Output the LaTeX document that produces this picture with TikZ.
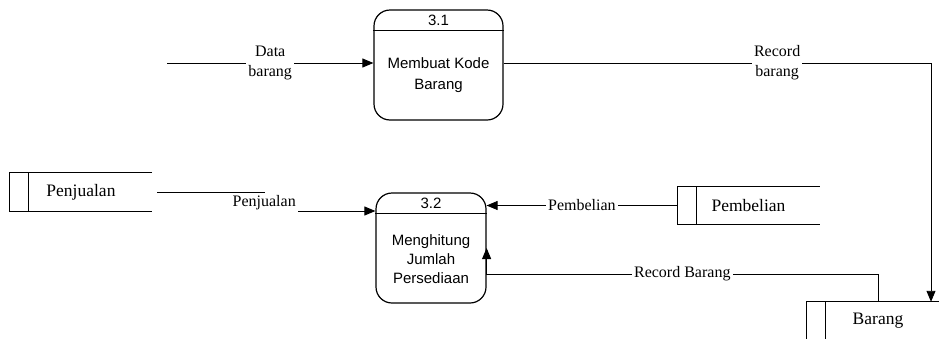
\documentclass[tikz,border=0pt]{standalone}
\usepackage{fontspec}
\setmainfont{Liberation Serif}
\newfontfamily\arial{Liberation Sans}
\usetikzlibrary{calc}
\usetikzlibrary{arrows.meta}

\begin{document}
\begin{tikzpicture}[
      x=1pt, y=-1pt,
      proses/.style={rectangle, draw, line width=1.2pt, rounded corners=16pt,
        minimum width=129pt, minimum height=110pt, inner sep=0pt},
      isi/.style={font=\arial\fontsize{15}{19}\selectfont, align=center, inner sep=0pt},
      simpan/.style={minimum width=142pt, minimum height=38pt, inner sep=0pt,
        font=\fontsize{17.5}{20}\selectfont},
      alir/.style={line width=0.9pt, -{Triangle[length=11pt, width=9pt]}},
      ket/.style={fill=white, inner sep=2pt, align=center, font=\fontsize{16}{20}\selectfont}
    ]
    \useasboundingbox (0,0) rectangle (939,338);

    % Proses 3.1 dan 3.2
    \node[proses] (p31) at (438.5,65) {};
    \node[proses, minimum width=110pt] (p32) at (431,248) {};
    \foreach \p/\nomor in {p31/3.1, p32/3.2} {
      \draw[line width=1.2pt] ($(\p.north west)+(0,21)$) -- ($(\p.north east)+(0,21)$);
      \node[isi] at ($(\p.north)+(0,10.5)$) {\nomor};
    }
    \node[isi, font=\arial\fontsize{15}{21}\selectfont] at ($(p31.center)+(0,10)$) {Membuat Kode\\Barang};
    \node[isi] at ($(p32.center)+(0,11)$) {Menghitung\\Jumlah\\Persediaan};

    % Data store
    \node[simpan] (pj) at (81,192) {Penjualan};
    \node[simpan, minimum height=37pt] (pb) at (748.5,205.5) {Pembelian};
    \node[simpan] (br) at (878,321) {Barang};
    \foreach \s in {pj,pb,br}
      \draw[line width=1pt] (\s.north east) -- (\s.north west) -- (\s.south west) -- (\s.south east)
        ([xshift=19pt]\s.north west) -- ([xshift=19pt]\s.south west);

    % Aliran data
    \coordinate (db) at (167,63);
    \draw[alir] (db) -- node[ket] {Data\\barang} (db -| p31.west);
    \draw[alir] (p31.east |- db) -| node[ket, pos=0.32] {Record\\barang} ([xshift=53pt]br.north);
    \draw[alir] ([xshift=5pt]pj.east) -- ++(107,0) -- node[ket, pos=0.55] {Penjualan} ++(0,19)
      -- ([yshift=37pt]p32.west);
    \draw[alir] (pb.west) -- node[ket] {Pembelian} (pb.west -| p32.east);
    \draw[alir] (br.north) |- node[ket, pos=0.75] {Record Barang} ([yshift=-26pt]p32.east) -- (p32.east);
  \end{tikzpicture}
\end{document}
